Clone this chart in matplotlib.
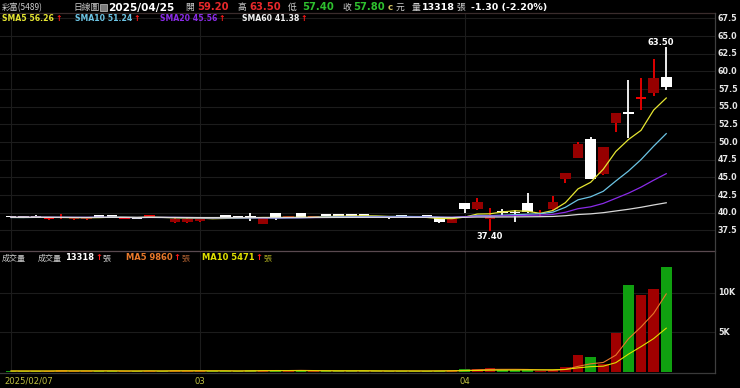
import matplotlib
matplotlib.use("Agg")
import matplotlib.pyplot as plt
import numpy as np
import pandas as pd
from matplotlib.transforms import blended_transform_factory
from matplotlib.patches import Rectangle
from matplotlib.lines import Line2D

# ---------------- data ----------------
dates = ["2025/02/07", "2025/02/10", "2025/02/11", "2025/02/12", "2025/02/13", "2025/02/14",
         "2025/02/17", "2025/02/18", "2025/02/19", "2025/02/20", "2025/02/21", "2025/02/24",
         "2025/02/25", "2025/02/26", "2025/02/27",
         "2025/03/03", "2025/03/04", "2025/03/05", "2025/03/06", "2025/03/07",
         "2025/03/10", "2025/03/11", "2025/03/12", "2025/03/13", "2025/03/14",
         "2025/03/17", "2025/03/18", "2025/03/19", "2025/03/20", "2025/03/21",
         "2025/03/24", "2025/03/25", "2025/03/26", "2025/03/27", "2025/03/28", "2025/03/31",
         "2025/04/01", "2025/04/02", "2025/04/07", "2025/04/08", "2025/04/09", "2025/04/10",
         "2025/04/11", "2025/04/14", "2025/04/15", "2025/04/16", "2025/04/17", "2025/04/18",
         "2025/04/21", "2025/04/22", "2025/04/23", "2025/04/24", "2025/04/25"]

opens = [39.45, 39.40, 39.50, 39.05, 39.20, 39.05, 39.05, 39.58, 39.58, 39.10,
         39.30, 39.45, 39.35, 38.65, 38.75, 38.80, 39.30, 39.55, 39.45, 39.40,
         38.40, 39.90, 39.30, 39.90, 39.40, 39.70, 39.70, 39.70, 39.75, 39.50,
         39.35, 39.65, 39.55, 39.65, 39.20, 38.55, 41.33, 40.48, 39.10, 40.05,
         39.97, 41.33, 39.80, 40.52, 44.72, 47.79, 50.43, 45.43, 52.75, 54.12,
         56.15, 56.89, 59.20]
highs = [39.50, 39.45, 39.72, 39.25, 39.80, 39.35, 39.30, 39.60, 39.70, 39.30,
         39.35, 39.60, 39.40, 39.20, 39.20, 39.15, 39.35, 39.60, 39.50, 39.95,
         39.30, 39.95, 39.60, 39.95, 39.60, 39.75, 39.75, 39.75, 39.80, 39.55,
         39.40, 39.70, 39.60, 39.70, 39.25, 39.15, 41.35, 42.13, 40.61, 40.50,
         40.40, 42.74, 40.40, 42.41, 45.60, 50.05, 50.76, 49.30, 54.10, 58.78,
         59.10, 61.75, 63.50]
lows = [39.35, 39.30, 39.35, 38.95, 39.10, 39.00, 39.00, 39.40, 39.45, 39.05,
        39.10, 39.40, 39.20, 38.55, 38.60, 38.70, 39.15, 39.40, 39.30, 38.85,
        38.35, 38.95, 39.25, 39.30, 39.35, 39.50, 39.50, 39.50, 39.55, 39.35,
        39.15, 39.40, 39.25, 39.25, 38.60, 38.50, 40.00, 40.40, 37.40, 39.60,
        38.70, 40.00, 39.50, 40.40, 44.25, 47.75, 44.77, 45.40, 51.35, 50.52,
        54.53, 56.56, 57.40]
closes = [39.40, 39.35, 39.40, 39.20, 39.30, 39.30, 39.30, 39.45, 39.45, 39.25,
          39.15, 39.58, 39.25, 39.15, 39.10, 39.05, 39.20, 39.45, 39.35, 39.35,
          39.25, 39.20, 39.55, 39.35, 39.55, 39.55, 39.55, 39.58, 39.60, 39.40,
          39.20, 39.45, 39.30, 39.30, 38.65, 39.10, 40.52, 41.47, 39.44, 40.00,
          39.93, 40.15, 40.00, 41.47, 45.57, 49.68, 44.77, 49.25, 54.05, 54.00,
          56.20, 59.10, 57.80]
volumes = [120, 90, 150, 110, 200, 130, 100, 160, 140, 90,
           110, 180, 80, 220, 170, 150, 100, 130, 90, 210,
           260, 230, 120, 190, 110, 140, 100, 120, 150, 90,
           130, 160, 110, 140, 180, 200, 380, 420, 450, 220,
           200, 300, 180, 250, 650, 2200, 1900, 1000, 4900, 10950,
           9700, 10450, 13318]
# closes / volumes of the days before the visible window (for moving averages)
pre_closes = [39.2, 39.3, 39.1, 39.4, 39.5, 39.3, 39.2, 39.4, 39.6, 39.5,
              39.3, 39.4, 39.2, 39.1, 39.3, 39.5, 39.4, 39.2, 39.3, 39.4]
pre_volumes = [150, 120, 180, 90, 110, 140, 100, 160, 130, 120]

price_ticks = [37.5, 40.0, 42.5, 45.0, 47.5, 50.0, 52.5, 55.0, 57.5, 60.0, 62.5, 65.0, 67.5]
vol_ticks = [5000, 10000]
vol_tick_labels = ["5K", "10K"]

# ---------------- figure ----------------
W, H = 740, 388
fig = plt.figure(figsize=(W / 100, H / 100), dpi=100, facecolor="black")


def fx(px):
    return px / W


def fy(py):
    return 1 - py / H


ax = fig.add_axes([0, fy(250), fx(715), (250 - 13) / H])
axv = fig.add_axes([0, fy(372), fx(715), (372 - 251) / H])
n = len(closes)
x = np.arange(n)
XL = (-0.873, 55.87)
for a in (ax, axv):
    a.set_facecolor("black")
    a.set_xlim(*XL)
    a.set_axis_off()
ax.set_ylim(34.72, 68.26)
axv.set_ylim(0, 15280)

GRID = "#1c1c1c"
# month positions
tick_idx = [0]
for i in range(1, n):
    if dates[i][5:7] != dates[i - 1][5:7]:
        tick_idx.append(i)
tick_lab = [dates[0]] + [dates[i][5:7] for i in tick_idx[1:]]

for t in price_ticks:
    ax.axhline(t, color=GRID, lw=0.8, zorder=0)
for t in vol_ticks:
    axv.axhline(t, color=GRID, lw=0.8, zorder=0)
for i in tick_idx:
    ax.axvline(i, color=GRID, lw=0.8, zorder=0)
    axv.axvline(i, color=GRID, lw=0.8, zorder=0)

o = np.array(opens)
c = np.array(closes)
hi = np.array(highs)
lo = np.array(lows)
up = c >= o
UP_BODY = "#960000"
UP_WICK = "#f00000"
DN = "#ffffff"
wick_col = [UP_WICK if u else DN for u in up]
ax.vlines(x, lo, hi, colors=wick_col, lw=1.3, zorder=2)
bottom = np.minimum(o, c)
height = np.abs(c - o)
thin = height < 0.25
height = np.maximum(height, 0.2)
body_col = [(UP_WICK if t else UP_BODY) if u else DN for u, t in zip(up, thin)]
ax.bar(x, height, bottom=bottom, width=0.84, color=body_col, linewidth=0, zorder=3)

s = pd.Series(pre_closes + closes)
k = len(pre_closes)
ma_specs = [(5, "#e6e632"), (10, "#6cc4e4"), (20, "#8a2be8"), (60, "#d8d8d8")]
for p, col in ma_specs:
    ma = s.rolling(p, min_periods=1).mean().values[k:]
    ax.plot(x, ma, color=col, lw=0.9, zorder=4)

# extreme labels
ax.text(n - 1 - 0.45, hi.max() + 0.65, f"{hi.max():.2f}", color="white", fontsize=6,
        fontweight="bold", ha="center", va="center", zorder=6)
imin = int(np.argmin(lo))
ax.text(imin, lo.min() - 0.84, f"{lo.min():.2f}", color="white", fontsize=6,
        fontweight="bold", ha="center", va="center", zorder=6)

# volume
v = np.array(volumes)
vcol = ["#a00000" if u else "#10a010" for u in up]
axv.bar(x, v, width=0.84, color=vcol, linewidth=0, zorder=2)
sv = pd.Series(pre_volumes + volumes)
kv = len(pre_volumes)
for p, col in [(5, "#e8782a"), (10, "#e0e000")]:
    ma = sv.rolling(p, min_periods=1).mean().values[kv:]
    axv.plot(x, ma, color=col, lw=0.8, zorder=3)

# right axis labels
tr = blended_transform_factory(ax.transAxes, ax.transData)
for t in price_ticks:
    ax.text(1 + 3 / 715, t, f"{t:.1f}", transform=tr, color="#e6e6e6", fontsize=5.8,
            fontweight="bold", ha="left", va="center", clip_on=False)
trv = blended_transform_factory(axv.transAxes, axv.transData)
for t, lab in zip(vol_ticks, vol_tick_labels):
    axv.text(1 + 3 / 715, t, lab, transform=trv, color="#e6e6e6", fontsize=5.8,
             fontweight="bold", ha="left", va="center", clip_on=False)

# x labels
trx = blended_transform_factory(axv.transData, fig.transFigure)
for i, lab in zip(tick_idx, tick_lab):
    if i == 0:
        fig.text(fx(4), fy(381), lab, color="#c0c040", fontsize=6.1, ha="left", va="center")
    else:
        axv.text(i, fy(381), lab, transform=trx, color="#c0c040", fontsize=6.1,
                 ha="center", va="center", clip_on=False)

# frame lines
for (x0, y0, x1, y1, col) in [(0, 13, 715, 13, "#3a2c2c"), (0, 251, 715, 251, "#5a4a50"),
                              (0, 372.5, 715, 372.5, "#3a3a3a"), (715, 13, 715, 372.5, "#3f3f3f")]:
    fig.add_artist(Line2D([fx(x0), fx(x1)], [fy(y0), fy(y1)], color=col, lw=0.9))

# header texts
CJK = ["Noto Sans CJK TC", "DejaVu Sans"]
renderer = fig.canvas.get_renderer()


def run(xp, yp, pieces):
    for text, color, kw, gap in pieces:
        t = fig.text(fx(xp), fy(yp), text, color=color, va="center", ha="left", **kw)
        bb = t.get_window_extent(renderer)
        xp += bb.width + gap
    return xp


B = dict(fontweight="bold")
GRAY = "#cfcfcf"
RED = "#e8282b"
GREEN = "#2ec02e"
ARW = "#ff1a1a"
y1 = 7.5
fig.text(fx(2), fy(y1), "彩富(5489)", color=GRAY, fontsize=6, family=CJK, va="center")
fig.text(fx(73), fy(y1), "日線圖", color=GRAY, fontsize=6.3, family=CJK, va="center")
fig.add_artist(Rectangle((fx(100), fy(11)), fx(7), 7 / H, facecolor="#7a7a7a",
                         edgecolor="#b0b0b0", lw=0.6))
fig.text(fx(108), fy(y1), "2025/04/25", color="white", fontsize=7.6, va="center", **B)
items = [(185, "開", 197, "59.20", RED), (237, "高", 249, "63.50", RED),
         (288, "低", 302, "57.40", GREEN), (342, "收", 353, "57.80", GREEN)]
for xl, lab, xv, val, col in items:
    fig.text(fx(xl), fy(y1), lab, color=GRAY, fontsize=6.3, family=CJK, va="center")
    fig.text(fx(xv), fy(y1), val, color=col, fontsize=7.2, va="center", **B)
fig.text(fx(388), fy(y1), "c", color="#d0c060", fontsize=6.3, va="center", **B)
fig.text(fx(396), fy(y1), "元", color=GRAY, fontsize=6.3, family=CJK, va="center")
fig.text(fx(412), fy(y1), "量", color=GRAY, fontsize=6.3, family=CJK, va="center")
fig.text(fx(422), fy(y1), "13318", color="white", fontsize=6.8, va="center", **B)
fig.text(fx(456), fy(y1), "張", color=GRAY, fontsize=6.3, family=CJK, va="center")
fig.text(fx(471), fy(y1), "-1.30 (-2.20%)", color="white", fontsize=6.8, va="center", **B)

y2 = 18.5
for xs, txt, col in [(2, "SMA5 56.26", "#e6e632"), (75, "SMA10 51.24", "#6cc4e4"),
                     (160, "SMA20 45.56", "#8a2be8"), (242, "SMA60 41.38", "#f0f0f0")]:
    run(xs, y2, [(txt, col, dict(fontsize=5.6, fontweight="bold"), 1.5),
                 ("↑", ARW, dict(fontsize=5.6, fontweight="bold"), 0)])

y3 = 258
fig.text(fx(2), fy(y3), "成交量", color=GRAY, fontsize=5.8, family=CJK, va="center")
run(38, y3, [("成交量", GRAY, dict(fontsize=5.8, family=CJK), 3),
             ("13318", "white", dict(fontsize=6, fontweight="bold"), 1),
             ("↑", ARW, dict(fontsize=6, fontweight="bold"), 1),
             ("張", GRAY, dict(fontsize=5.8, family=CJK), 0)])
run(126, y3, [("MA5 9860", "#e8782a", dict(fontsize=6, fontweight="bold"), 1),
              ("↑", ARW, dict(fontsize=6, fontweight="bold"), 1),
              ("張", "#b06030", dict(fontsize=5.8, family=CJK), 0)])
run(202, y3, [("MA10 5471", "#e0e000", dict(fontsize=6, fontweight="bold"), 1),
              ("↑", ARW, dict(fontsize=6, fontweight="bold"), 1),
              ("張", "#a8a820", dict(fontsize=5.8, family=CJK), 0)])

fig.savefig("out.png", dpi=100, facecolor="black")
